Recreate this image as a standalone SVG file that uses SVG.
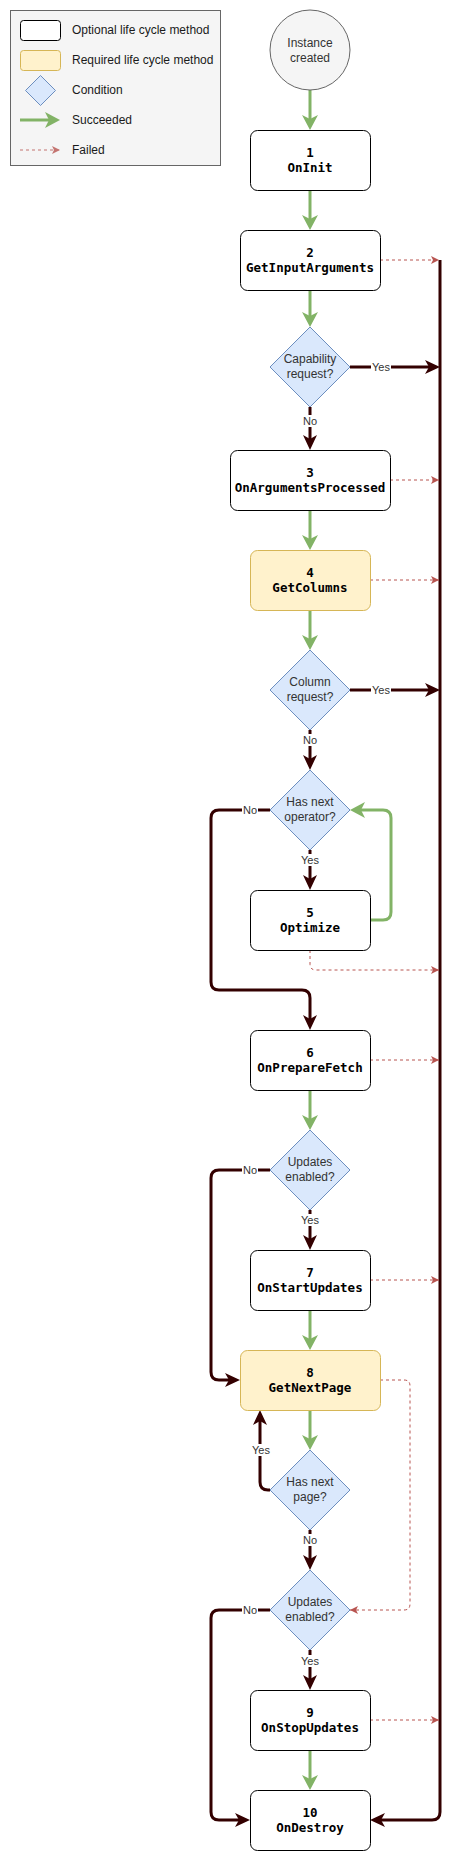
<svg xmlns="http://www.w3.org/2000/svg" width="460" height="1861" viewBox="0 0 460 1861">
<style>
.bg{fill:#ffffff}
.opt{fill:#ffffff;stroke:#000000;stroke-width:1}
.req{fill:#fff2cc;stroke:#d6b656;stroke-width:1}
.cond{fill:#dae8fc;stroke:#6c8ebf;stroke-width:1}
.start{fill:#f5f5f5;stroke:#666666;stroke-width:1}
.legend{fill:#f5f5f5;stroke:#666666;stroke-width:1}
.ok{fill:none;stroke:#82b366;stroke-width:3;marker-end:url(#mg)}
.dark{fill:none;stroke:#330000;stroke-width:3;marker-end:url(#md)}
.fail{fill:none;stroke:#b85450;stroke-width:1;stroke-dasharray:3 3;marker-end:url(#mr)}
.mono{font-family:"DejaVu Sans Mono","Liberation Mono",monospace;font-weight:bold;font-size:12.5px;fill:#000000;text-anchor:middle}
.sans{font-family:"Liberation Sans",Arial,sans-serif;font-size:12px;fill:#333333;text-anchor:middle}
.leg{font-family:"Liberation Sans",Arial,sans-serif;font-size:12px;fill:#1a1a1a}
.lbl{font-family:"Liberation Sans",Arial,sans-serif;font-size:11px;fill:#333333;text-anchor:middle}
.lblbg{fill:#ffffff}
</style>
<defs>
<marker id="mg" markerUnits="userSpaceOnUse" viewBox="0 0 15 16" markerWidth="15" markerHeight="16" refX="5" refY="8" orient="auto"><path d="M0,0 L15,8 L0,16 L4,8 z" fill="#82b366"/></marker>
<marker id="md" markerUnits="userSpaceOnUse" viewBox="0 0 15 14" markerWidth="15" markerHeight="14" refX="5" refY="7" orient="auto"><path d="M0,0 L15,7 L0,14 L4,7 z" fill="#330000"/></marker>
<marker id="mr" markerUnits="userSpaceOnUse" viewBox="0 0 8 8" markerWidth="8" markerHeight="8" refX="8" refY="4" orient="auto"><path d="M0,0 L8,4 L0,8 L2,4 z" fill="#b85450"/></marker>
</defs>
<rect class="bg" x="0" y="0" width="460" height="1861"/>

<g id="legend">
<rect class="legend" x="10.5" y="10.5" width="210" height="155"/>
<rect class="opt" x="20.5" y="20.5" width="40" height="20" rx="3"/>
<rect class="req" x="20.5" y="50.5" width="40" height="20" rx="3"/>
<path class="cond" d="M40.5,75.5 L55.5,90.5 L40.5,105.5 L25.5,90.5 z"/>
<line x1="20" y1="120" x2="50" y2="120" stroke="#82b366" stroke-width="3" marker-end="url(#mg)"/>
<line x1="20" y1="150" x2="60" y2="150" stroke="#b85450" stroke-width="1" stroke-dasharray="3 3" marker-end="url(#mr)" opacity="0.8"/>
<text class="leg" x="72" y="34">Optional life cycle method</text>
<text class="leg" x="72" y="64">Required life cycle method</text>
<text class="leg" x="72" y="94">Condition</text>
<text class="leg" x="72" y="124">Succeeded</text>
<text class="leg" x="72" y="154">Failed</text>
</g>

<g id="connectors">
<!-- succeeded -->
<path class="ok" d="M310,90 V120"/>
<path class="ok" d="M310,190 V220"/>
<path class="ok" d="M310,290 V317"/>
<path class="ok" d="M310,510 V540"/>
<path class="ok" d="M310,610 V640"/>
<path class="ok" d="M370,920 H383 Q391,920 391,912 V818 Q391,810 383,810 H360"/>
<path class="ok" d="M310,1090 V1120"/>
<path class="ok" d="M310,1310 V1340"/>
<path class="ok" d="M310,1410 V1440"/>
<path class="ok" d="M310,1750 V1780"/>
<!-- dark -->
<path class="dark" d="M350,367 H430"/>
<path class="dark" d="M310,407 V440"/>
<path class="dark" d="M350,690 H430"/>
<path class="dark" d="M310,730 V760"/>
<path class="dark" d="M310,850 V880"/>
<path class="dark" d="M270,810 H219 Q211,810 211,818 V982 Q211,990 219,990 H302 Q310,990 310,998 V1020"/>
<path class="dark" d="M270,1170 H219 Q211,1170 211,1178 V1372 Q211,1380 219,1380 H230"/>
<path class="dark" d="M310,1210 V1240"/>
<path class="dark" d="M270,1490 H268 Q260,1490 260,1482 V1420"/>
<path class="dark" d="M310,1530 V1560"/>
<path class="dark" d="M270,1610 H219 Q211,1610 211,1618 V1812 Q211,1820 219,1820 H240"/>
<path class="dark" d="M310,1650 V1680"/>
<path class="dark" d="M440,260 V1812 Q440,1820 432,1820 H380"/>
<!-- failed -->
<path class="fail" d="M380,260 H439"/>
<path class="fail" d="M390,480 H439"/>
<path class="fail" d="M370,580 H439"/>
<path class="fail" d="M310,950 V964 Q310,970 316,970 H439"/>
<path class="fail" d="M370,1060 H439"/>
<path class="fail" d="M370,1280 H439"/>
<path class="fail" d="M380,1380 H404 Q410,1380 410,1386 V1604 Q410,1610 404,1610 H350"/>
<path class="fail" d="M370,1720 H439"/>
<!-- labels -->
<rect class="lblbg" x="371" y="361" width="20" height="12"/><text class="lbl" x="381" y="371">Yes</text>
<rect class="lblbg" x="302" y="415" width="16" height="12"/><text class="lbl" x="310" y="425">No</text>
<rect class="lblbg" x="371" y="684" width="20" height="12"/><text class="lbl" x="381" y="694">Yes</text>
<rect class="lblbg" x="302" y="734" width="16" height="12"/><text class="lbl" x="310" y="744">No</text>
<rect class="lblbg" x="242" y="804" width="16" height="12"/><text class="lbl" x="250" y="814">No</text>
<rect class="lblbg" x="300" y="854" width="20" height="12"/><text class="lbl" x="310" y="864">Yes</text>
<rect class="lblbg" x="242" y="1164" width="16" height="12"/><text class="lbl" x="250" y="1174">No</text>
<rect class="lblbg" x="300" y="1214" width="20" height="12"/><text class="lbl" x="310" y="1224">Yes</text>
<rect class="lblbg" x="251" y="1444" width="20" height="12"/><text class="lbl" x="261" y="1454">Yes</text>
<rect class="lblbg" x="302" y="1534" width="16" height="12"/><text class="lbl" x="310" y="1544">No</text>
<rect class="lblbg" x="242" y="1604" width="16" height="12"/><text class="lbl" x="250" y="1614">No</text>
<rect class="lblbg" x="300" y="1655" width="20" height="12"/><text class="lbl" x="310" y="1665">Yes</text>
</g>

<g id="start">
<circle class="start" cx="310" cy="50" r="40"/>
<text class="sans" x="310" y="47">Instance</text>
<text class="sans" x="310" y="62">created</text>
</g>
<g id="n1"><rect class="opt" x="250.5" y="130.5" width="120" height="60" rx="7"/><text class="mono" x="310" y="156.5">1</text><text class="mono" x="310" y="171.5">OnInit</text></g>
<g id="n2"><rect class="opt" x="240.5" y="230.5" width="140" height="60" rx="7"/><text class="mono" x="310" y="256.5">2</text><text class="mono" x="310" y="271.5">GetInputArguments</text></g>
<g id="c1"><path class="cond" d="M310,327 L350,367 L310,407 L270,367 z"/><text class="sans" x="310" y="363">Capability</text><text class="sans" x="310" y="378">request?</text></g>
<g id="n3"><rect class="opt" x="230.5" y="450.5" width="160" height="60" rx="7"/><text class="mono" x="310" y="476.5">3</text><text class="mono" x="310" y="491.5">OnArgumentsProcessed</text></g>
<g id="n4"><rect class="req" x="250.5" y="550.5" width="120" height="60" rx="7"/><text class="mono" x="310" y="576.5">4</text><text class="mono" x="310" y="591.5">GetColumns</text></g>
<g id="c2"><path class="cond" d="M310,650 L350,690 L310,730 L270,690 z"/><text class="sans" x="310" y="686">Column</text><text class="sans" x="310" y="701">request?</text></g>
<g id="c3"><path class="cond" d="M310,770 L350,810 L310,850 L270,810 z"/><text class="sans" x="310" y="806">Has next</text><text class="sans" x="310" y="821">operator?</text></g>
<g id="n5"><rect class="opt" x="250.5" y="890.5" width="120" height="60" rx="7"/><text class="mono" x="310" y="916.5">5</text><text class="mono" x="310" y="931.5">Optimize</text></g>
<g id="n6"><rect class="opt" x="250.5" y="1030.5" width="120" height="60" rx="7"/><text class="mono" x="310" y="1056.5">6</text><text class="mono" x="310" y="1071.5">OnPrepareFetch</text></g>
<g id="c4"><path class="cond" d="M310,1130 L350,1170 L310,1210 L270,1170 z"/><text class="sans" x="310" y="1166">Updates</text><text class="sans" x="310" y="1181">enabled?</text></g>
<g id="n7"><rect class="opt" x="250.5" y="1250.5" width="120" height="60" rx="7"/><text class="mono" x="310" y="1276.5">7</text><text class="mono" x="310" y="1291.5">OnStartUpdates</text></g>
<g id="n8"><rect class="req" x="240.5" y="1350.5" width="140" height="60" rx="7"/><text class="mono" x="310" y="1376.5">8</text><text class="mono" x="310" y="1391.5">GetNextPage</text></g>
<g id="c5"><path class="cond" d="M310,1450 L350,1490 L310,1530 L270,1490 z"/><text class="sans" x="310" y="1486">Has next</text><text class="sans" x="310" y="1501">page?</text></g>
<g id="c6"><path class="cond" d="M310,1570 L350,1610 L310,1650 L270,1610 z"/><text class="sans" x="310" y="1606">Updates</text><text class="sans" x="310" y="1621">enabled?</text></g>
<g id="n9"><rect class="opt" x="250.5" y="1690.5" width="120" height="60" rx="7"/><text class="mono" x="310" y="1716.5">9</text><text class="mono" x="310" y="1731.5">OnStopUpdates</text></g>
<g id="n10"><rect class="opt" x="250.5" y="1790.5" width="120" height="60" rx="7"/><text class="mono" x="310" y="1816.5">10</text><text class="mono" x="310" y="1831.5">OnDestroy</text></g>
</svg>
